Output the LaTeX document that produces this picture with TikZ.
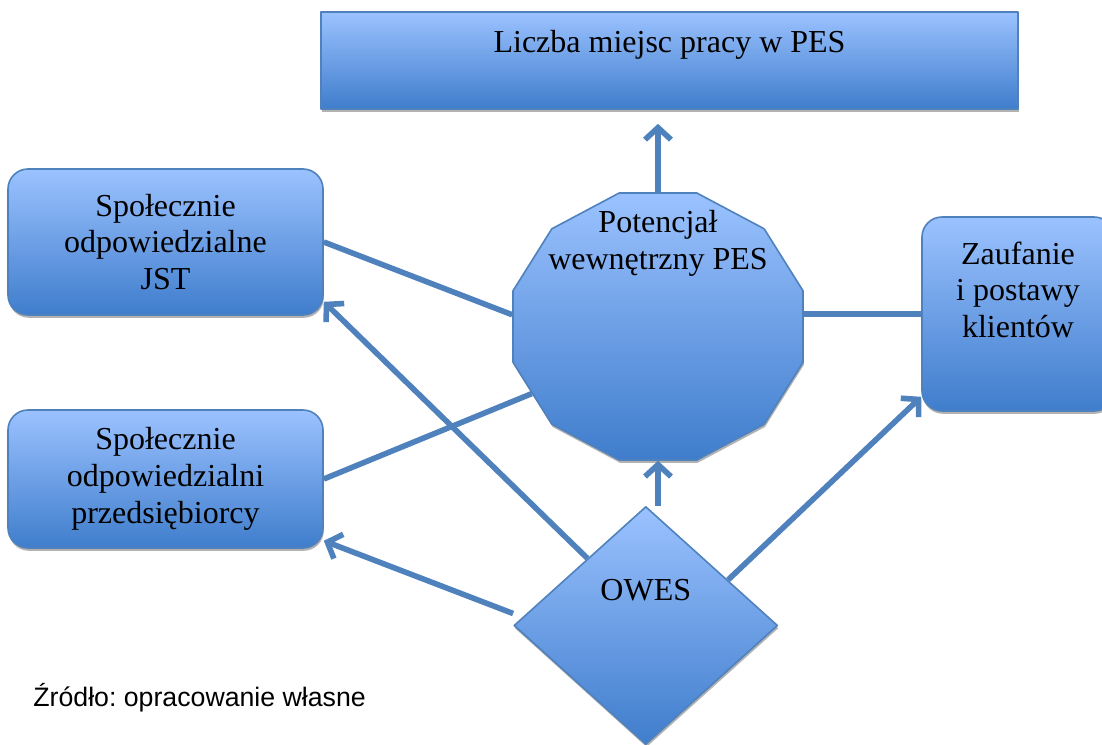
\documentclass[tikz,border=0pt]{standalone}
\usepackage{fontspec}
\setmainfont{Liberation Serif}
\newfontfamily\zrodlofont{Liberation Sans}
\frenchspacing
\usetikzlibrary{arrows.meta}
\usetikzlibrary{shapes.geometric}
\usetikzlibrary{shadows}
\usetikzlibrary{calc}
\usetikzlibrary{positioning}
\definecolor{jasny}{RGB}{155,194,255}
\definecolor{ciemny}{RGB}{63,125,204}
\definecolor{brzeg}{RGB}{79,129,189}

\begin{document}
\begin{tikzpicture}[x=0.5pt,y=-0.5pt,line join=round,
    blok/.style={draw=brzeg,line width=0.8pt,top color=jasny,bottom color=ciemny,inner sep=0pt,
      drop shadow={shadow xshift=0.4pt,shadow yshift=-1.4pt,fill=black!60}},
    zaok/.style={blok,rounded corners=10pt},
    tekst/.style={font=\fontsize{16}{18.4}\selectfont,align=center,inner sep=0pt},
    lacz/.style={draw=brzeg,line width=2.8pt},
    strz/.style={lacz,-{Straight Barb[length=6pt,width=13pt]}}]
  \useasboundingbox (0,0) rectangle (1102,744);
  % 
  \node[blok,minimum width=348.5pt,minimum height=48.5pt] (liczba) at (669.5,60.5) {};
  \node[tekst,below=9.5pt of liczba.north] (liczbatxt) {Liczba miejsc pracy w PES};
  % 
  \node[zaok,tekst,minimum width=157.5pt,minimum height=73pt] (jst) at (165.5,242) {Społecznie\\odpowiedzialne\\JST};
  % 
  \node[zaok,tekst,minimum width=157.5pt,minimum height=69pt] (przed) at (165.5,479) {Społecznie\\odpowiedzialni\\przedsiębiorcy};
  % 
  \node[zaok,minimum width=96pt,minimum height=97pt] (zauf) at (1018,314) {};
  \node[tekst,below=12.5pt of zauf.north] (zauftxt) {Zaufanie\\i postawy\\klientów};
  % 
  \begin{scope}[shift={(658,326.5)}]
    \node[blok,regular polygon,regular polygon sides=12,minimum size=150.1pt,yscale=0.9207,transform shape] (pot) at (0,0) {};
  \end{scope}
  \node[tekst,below=9pt of pot.north] (pottxt) {Potencjał\\wewnętrzny PES};
  % 
  \node[blok,diamond,minimum width=131.9pt,minimum height=119pt] (owes) at (645.8,625.5) {};
  \node[tekst,anchor=base] (owestxt) at ($(owes.center)+(0,-25.5)$) {OWES};
  % 
  \draw[strz,shorten >=7pt] (pot.north) -- (pot.north |- liczba.south);
  \draw[lacz] (jst.east) -- (pot.175);
  \draw[lacz] (przed.east) -- (pot.210);
  \draw[lacz] (zauf.west -| pot.east) -- (zauf.west);
  % 
  \draw[strz] (owes.131) -- ($(jst.south east)+(0,-14)$);
  \draw[strz] ($(owes.west)+(0,-12)$) -- ($(przed.south east)+(0,-8)$);
  \draw[strz] (owes.29) -- ($(zauf.south west)+(0,-15)$);
  \draw[strz] (pot.south |- owes.north) -- (pot.south);
  % 
  \node[font=\zrodlofont\fontsize{13.35}{16}\selectfont,anchor=base west,inner sep=0pt] (zrodlo) at (33,706) {Źródło: opracowanie własne};
\end{tikzpicture}
\end{document}
